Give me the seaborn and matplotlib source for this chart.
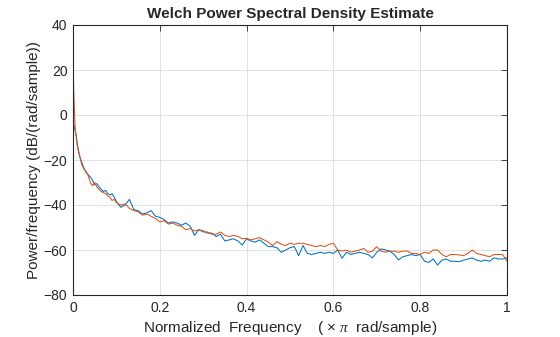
import numpy as np
import pandas as pd
import matplotlib
matplotlib.use("Agg")
import matplotlib.pyplot as plt
import seaborn as sns

# Normalized frequency (x pi rad/sample)
freq = [0.0, 0.0025, 0.005, 0.0075, 0.01, 0.015, 0.02, 0.025, 0.03, 0.035,
        0.04, 0.045, 0.05, 0.055, 0.06, 0.065, 0.07, 0.075, 0.08, 0.085,
        0.09, 0.095] + [round(0.10 + 0.01 * k, 2) for k in range(91)]

# Blue series (dB/(rad/sample))
psd_blue = [-3, -5, -7, -9, -13, -18, -21, -23.5, -25.5, -26.5,
            -27.5, -29, -31, -30.5, -32, -33, -34, -33.5, -35, -35.5,
            -35, -36.5,
            -38.5, -41, -40, -37.5, -42, -42.5, -44, -43.5, -42.5, -45,
            -45.5, -46.5, -48, -47.5, -48, -49, -48, -49.5, -53.5, -51,
            -51.5, -52.5, -52.5, -54, -53, -56, -55.5, -55, -56, -57.8,
            -55, -56, -56.5, -55.5, -57, -58.5, -58.5, -59, -61, -60,
            -59, -58.5, -62.5, -58, -61.5, -62, -61.5, -61, -61.5, -61,
            -61.5, -60, -63.7, -61, -62, -61.5, -61, -61.5, -62, -63.5,
            -61, -59.5, -60, -60.5, -62, -64.4, -63, -62.5, -62, -62.5,
            -62, -65, -65.5, -64, -66.7, -64.5, -64, -65, -65, -65.2,
            -64.5, -64, -63.5, -64.5, -65, -64.5, -65, -63.5, -64, -64,
            -63.5]

# Orange series (dB/(rad/sample))
psd_orange = [21.5, 6, -6, -10, -14, -18, -22, -24, -25, -27,
              -30, -31.5, -30, -32, -33, -34, -34.5, -35, -36, -36.5,
              -38, -37.5,
              -39, -40, -39.5, -41.5, -42.5, -43, -44.5, -44, -45, -46,
              -47.5, -47, -48.5, -48, -49, -49.5, -51, -50.5, -51.5, -51,
              -52, -52, -53, -53, -52, -53.5, -54, -53.5, -54, -55,
              -54.8, -55.5, -55, -54.5, -55.5, -56.5, -58, -56.3, -57.5, -58,
              -57, -57.5, -57, -57, -57.5, -58, -58.5, -58, -58.5, -57.5,
              -57, -60, -60.5, -60, -61, -60.5, -60, -59.3, -61, -60.5,
              -58.5, -60.5, -61, -60.5, -60.5, -61, -60.5, -60.5, -61.5, -61.5,
              -62, -61, -61.5, -60, -60, -62, -63, -62, -62, -62.2,
              -62.5, -61.5, -60, -61.5, -62, -62.5, -63, -62, -62, -62,
              -65]

x_ticks = [0, 0.2, 0.4, 0.6, 0.8, 1]
x_ticklabels = ["0", "0.2", "0.4", "0.6", "0.8", "1"]
y_ticks = [-80, -60, -40, -20, 0, 20, 40]

sns.set_style("white")
plt.rcParams['font.family'] = ['Liberation Sans', 'DejaVu Sans']
plt.rcParams['mathtext.fontset'] = 'custom'
plt.rcParams['mathtext.rm'] = 'Liberation Sans'
plt.rcParams['mathtext.it'] = 'Liberation Serif:italic'

fig = plt.figure(figsize=(5.6, 3.37), dpi=100)
ax = fig.add_axes([73/560, 42/337, 434/560, 270/337])

df_b = pd.DataFrame({"f": freq, "p": psd_blue})
df_o = pd.DataFrame({"f": freq, "p": psd_orange})
sns.lineplot(data=df_b, x="f", y="p", ax=ax, color="#0072BD", linewidth=0.75)
sns.lineplot(data=df_o, x="f", y="p", ax=ax, color="#D95319", linewidth=0.75)

ax.set_xlim(0, 1)
ax.set_ylim(-80, 40)
ax.set_xticks(x_ticks)
ax.set_xticklabels(x_ticklabels)
ax.set_yticks(y_ticks)
axis_col = "#262626"
ax.grid(True, color="#dcdcdc", linewidth=0.6)
ax.set_axisbelow(True)
for s in ax.spines.values():
    s.set_color(axis_col)
    s.set_linewidth(0.8)
ax.tick_params(direction="in", top=True, right=True, length=4, width=0.6,
               colors=axis_col, labelsize=10, pad=4)
ax.set_xlabel("Normalized  Frequency    ( $\\times\\ \\mathit{\\pi}$  rad/sample)",
              fontsize=11, color=axis_col, labelpad=3)
ax.set_ylabel("Power/frequency (dB/(rad/sample))", fontsize=11, color=axis_col,
              labelpad=2)
ax.set_title("Welch Power Spectral Density Estimate", fontsize=11,
             fontweight="bold", color=axis_col, pad=5)

fig.savefig("out.png", dpi=100)
